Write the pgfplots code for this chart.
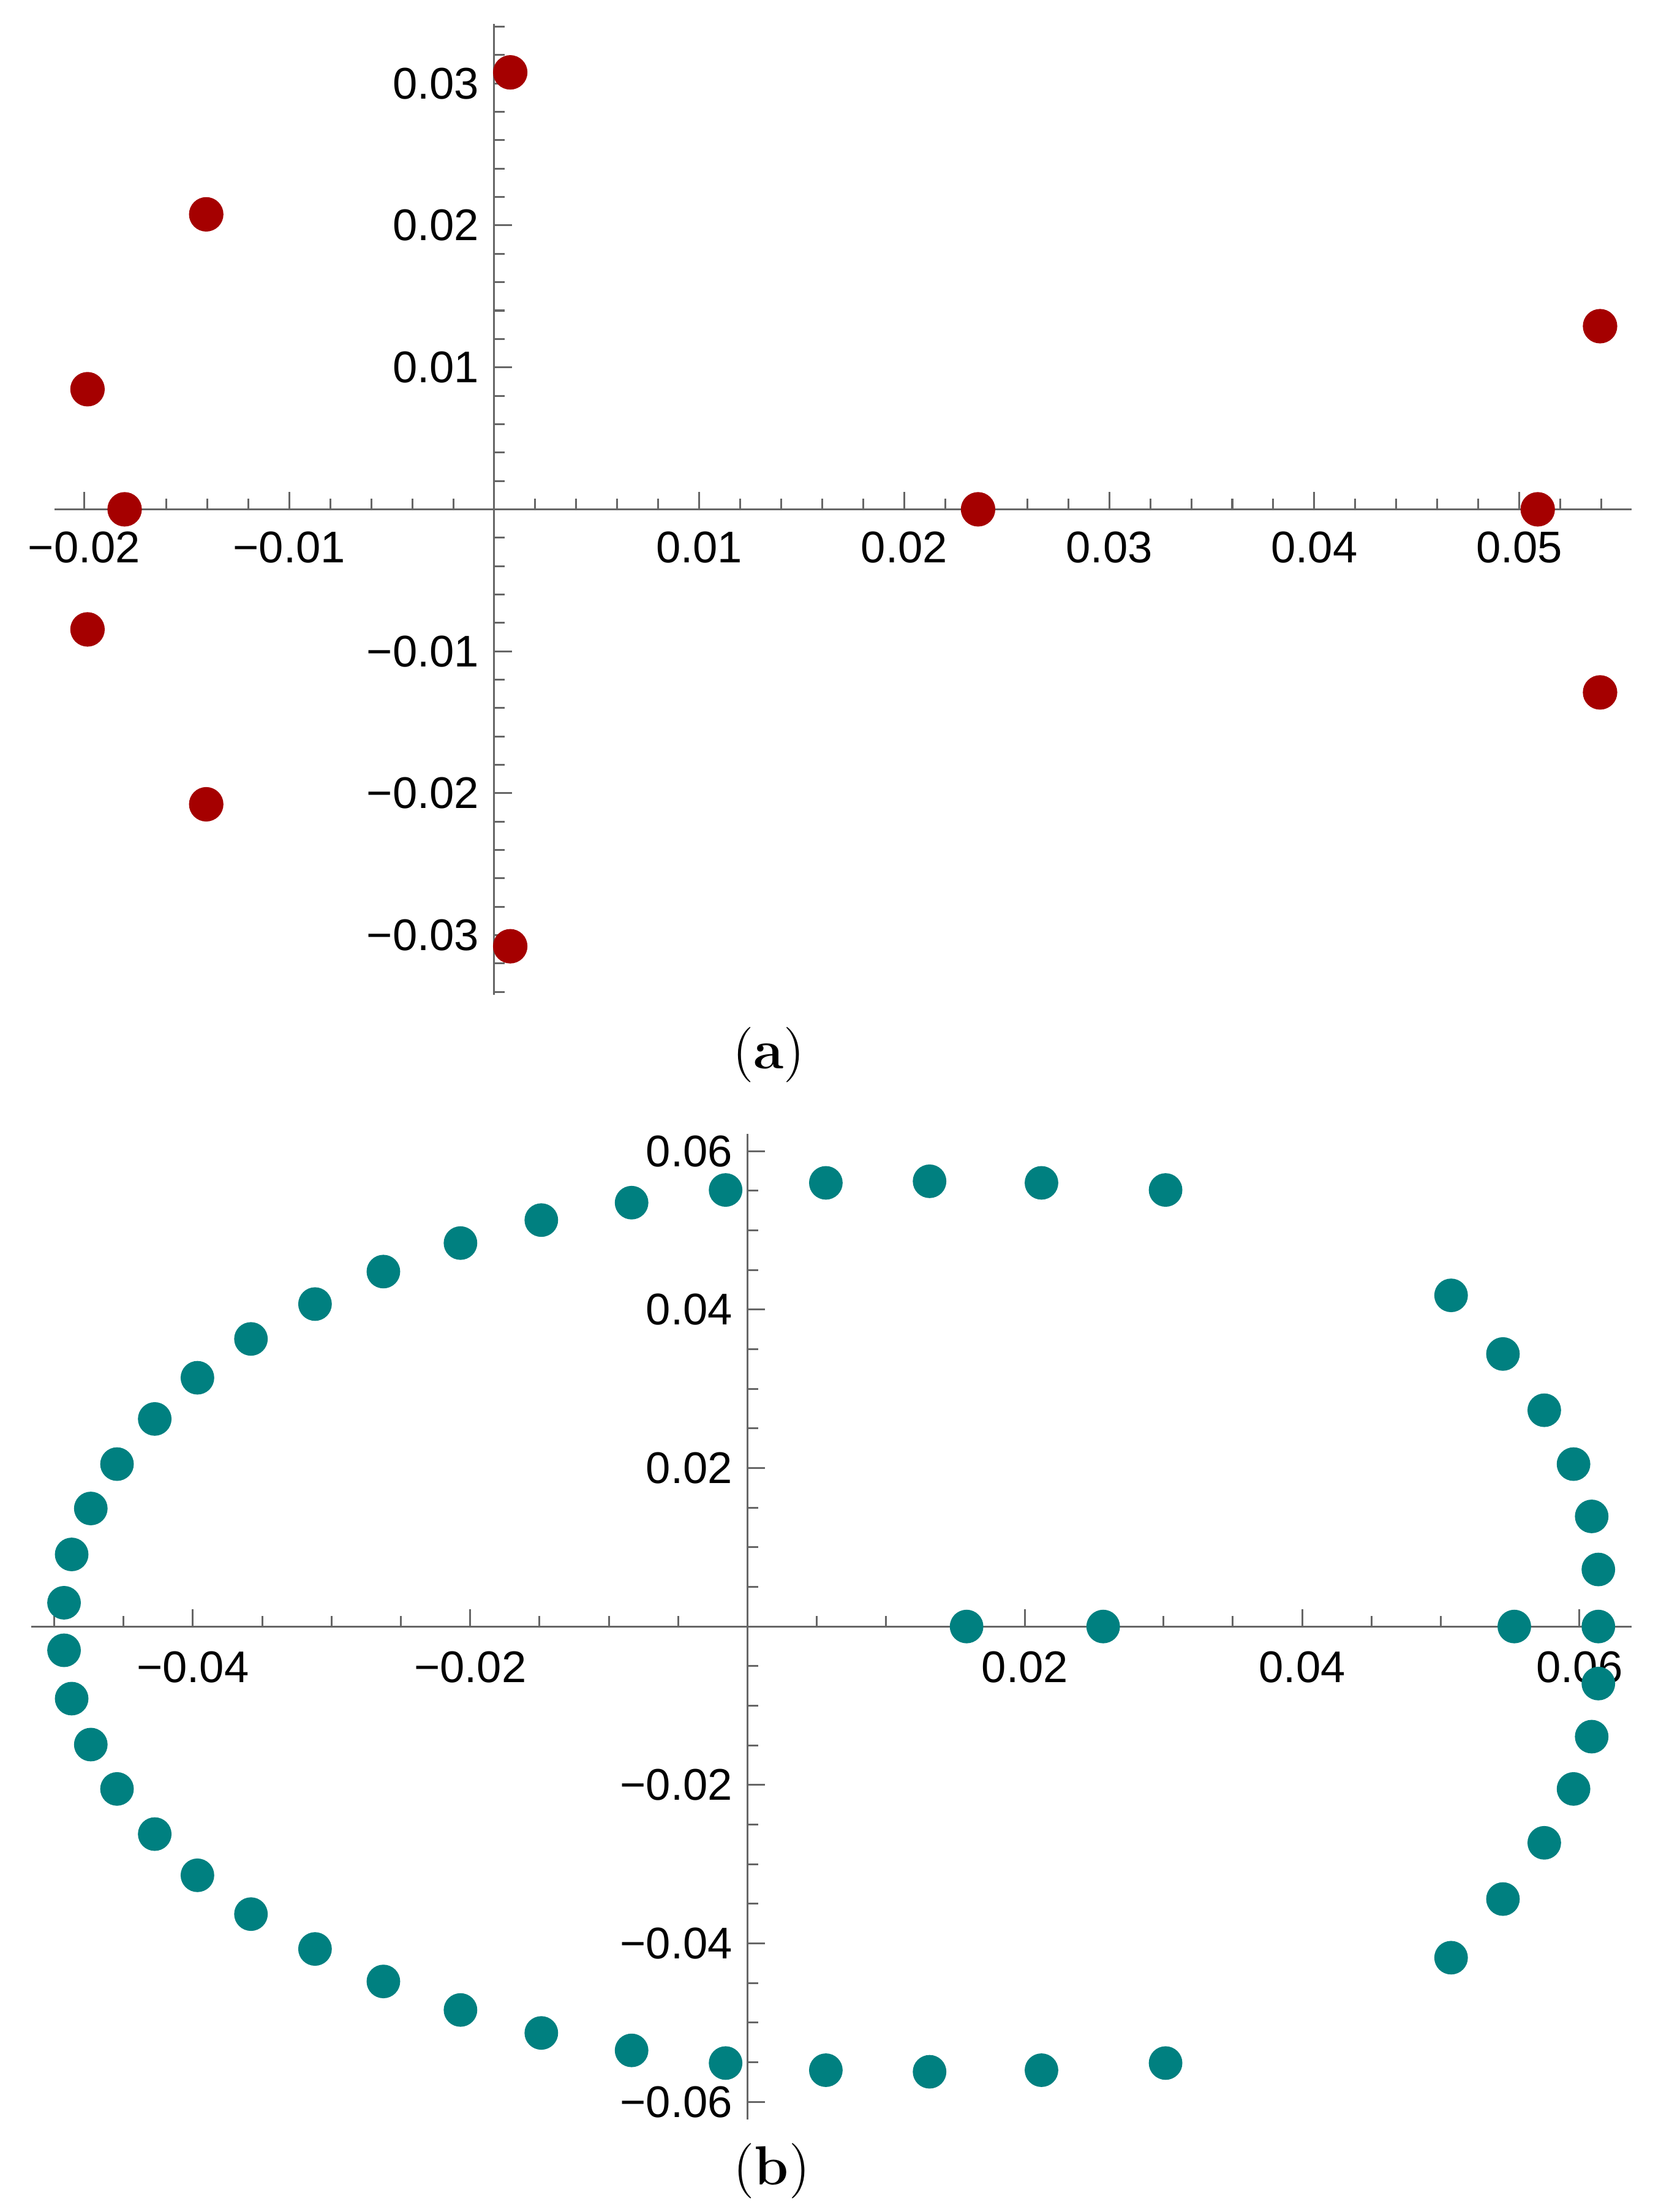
\documentclass[border=0pt]{standalone}
\usepackage{pgfplots}
\pgfplotsset{compat=1.18}
\usepackage{fontspec}
\newfontfamily\tickfont{Liberation Sans}
\definecolor{axgray}{RGB}{102,102,102}
\definecolor{ptred}{RGB}{165,0,0}
\definecolor{ptteal}{RGB}{0,128,128}
\pgfplotsset{
  mystyle/.style={
    scale only axis,
    axis lines=middle,
    axis line style={axgray, line width=0.43pt, -},
    every inner x axis line/.append style={-},
    every inner y axis line/.append style={-},
    tick style={axgray, line width=0.43pt},
    tick align=inside,
    major tick length=0.143cm,
    minor tick length=0.085cm,
    scaled ticks=false,
    ticklabel style={font=\tickfont\fontsize{10.3}{12}\selectfont, text=black},
    clip=false,
    anchor=south west,
  }
}
\begin{document}
\begin{tikzpicture}
\path[use as bounding box] (0,0) rectangle (13.555,18.055);

% ---------- panel (a)
\begin{axis}[mystyle,
  at={(0.445cm,9.935cm)},
  width=12.875cm, height=7.925cm,
  xmin=-0.02145, xmax=0.05548,
  ymin=-0.0342, ymax=0.0342,
  xtick={-0.02,-0.01,0.01,0.02,0.03,0.04,0.05},
  xticklabels={−0.02,−0.01,0.01,0.02,0.03,0.04,0.05},
  ytick={-0.03,-0.02,-0.01,0.01,0.02,0.03},
  yticklabels={−0.03,−0.02,−0.01,0.01,0.02,0.03},
  minor xtick={-0.02,-0.018,...,0.0545},
  minor ytick={-0.034,-0.032,...,0.0345},
  xticklabel style={yshift=-0.06cm},
]
\addplot[only marks, mark=*, mark size=3.8pt, color=ptred] table {
x y
0.00078 0.03078
0.00078 -0.03078
-0.01405 0.02078
-0.01405 -0.02078
-0.01984 0.00846
-0.01984 -0.00846
-0.01803 0
0.0236 0
0.0509 0
0.05394 0.0129
0.05394 -0.0129
};
\end{axis}
\node[font=\fontsize{12.8}{15}\selectfont] at (6.275,9.445) {(\textbf{a})};

% ---------- panel (b)
\begin{axis}[mystyle,
  at={(0.2545cm,0.7565cm)},
  width=13.0635cm, height=8.0445cm,
  xmin=-0.05166, xmax=0.06374,
  ymin=-0.0622, ymax=0.0622,
  xtick={-0.04,-0.02,0.02,0.04,0.06},
  xticklabels={−0.04,−0.02,0.02,0.04,0.06},
  ytick={-0.06,-0.04,-0.02,0.02,0.04,0.06},
  yticklabels={−0.06,−0.04,−0.02,0.02,0.04,0.06},
  minor xtick={-0.05,-0.045,...,0.0605},
  minor ytick={-0.06,-0.055,...,0.0605},
  xticklabel style={yshift=-0.08cm},
]
\addplot[only marks, mark=*, mark size=3.7pt, color=ptteal] table {
x y
-0.00158 0.0551
-0.00836 0.0535
-0.01487 0.0513
-0.0207 0.0484
-0.02626 0.0448
-0.03119 0.0407
-0.03581 0.0363
-0.03967 0.0314
-0.04275 0.0262
-0.04547 0.0205
-0.04736 0.0149
-0.04874 0.0091
-0.04929 0.0030
-0.04929 -0.0030
-0.04874 -0.0091
-0.04736 -0.0149
-0.04547 -0.0205
-0.04275 -0.0262
-0.03967 -0.0314
-0.03581 -0.0363
-0.03119 -0.0407
-0.02626 -0.0448
-0.0207 -0.0484
-0.01487 -0.0513
-0.00836 -0.0535
-0.00158 -0.0551
0.00565 0.0560
0.01313 0.0562
0.0212 0.0560
0.03015 0.0551
0.00565 -0.0560
0.01313 -0.0562
0.0212 -0.0560
0.03015 -0.0551
0.05074 0.0418
0.05448 0.0344
0.05746 0.0273
0.05957 0.0205
0.06088 0.0139
0.06136 0.0072
0.06136 0
0.06136 -0.0072
0.06088 -0.0139
0.05957 -0.0205
0.05746 -0.0273
0.05448 -0.0344
0.05074 -0.0418
0.0158 0
0.02565 0
0.0553 0
};
\end{axis}
\node[font=\fontsize{12.8}{15}\selectfont] at (6.3,0.335) {(\textbf{b})};
\end{tikzpicture}
\end{document}
